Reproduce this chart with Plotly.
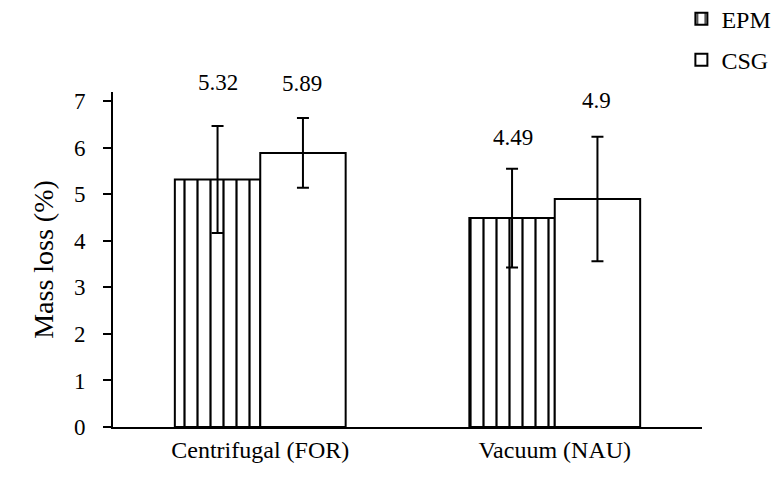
import plotly.graph_objects as go

categories = ["Centrifugal (FOR)", "Vacuum (NAU)"]
series_names = ["EPM", "CSG"]
epm_values = [5.32, 4.49]
csg_values = [5.89, 4.90]
epm_errors = [1.15, 1.06]
csg_errors = [0.75, 1.34]
y_ticks = [0, 1, 2, 3, 4, 5, 6, 7]

FONT = "Liberation Serif"

fig = go.Figure()
fig.add_trace(go.Bar(
    name=series_names[0], x=categories, y=epm_values,
    error_y=dict(type="data", array=epm_errors, color="black", thickness=2, width=6),
    marker=dict(color="white", line=dict(color="black", width=2),
                pattern=dict(shape="|", fgcolor="#000000", bgcolor="white", fgopacity=1,
                             fillmode="replace", size=13, solidity=0.17)),
    legendgroup="a",
))
fig.add_trace(go.Bar(
    name=series_names[1], x=categories, y=csg_values,
    error_y=dict(type="data", array=csg_errors, color="black", thickness=2, width=6),
    marker=dict(color="white", line=dict(color="black", width=2)),
    legendgroup="b",
))

# value labels above error bars
label_shift = [[43, 31], [35, 36]]
for si, (vals, errs) in enumerate([(epm_values, epm_errors), (csg_values, csg_errors)]):
    for ci, cat in enumerate(categories):
        fig.add_annotation(
            x=cat, y=vals[ci] + errs[ci], text=f"{vals[ci]:g}", showarrow=False,
            xshift=-42 if si == 0 else 42, yshift=label_shift[si][ci],
            font=dict(family=FONT, size=23, color="black"),
        )

fig.update_layout(
    width=771, height=470,
    margin=dict(l=105, r=77, t=84, b=51, autoexpand=False),
    paper_bgcolor="white", plot_bgcolor="white",
    barmode="group", bargap=0.42, bargroupgap=0,
    font=dict(family=FONT, size=23, color="black"),
    showlegend=True,
    legend=dict(x=0.965, y=1.285, xanchor="left", yanchor="top", tracegroupgap=7,
                font=dict(family=FONT, size=24, color="black"), bgcolor="rgba(0,0,0,0)"),
    xaxis=dict(range=[-0.5, 1.5], showline=True, linecolor="black", linewidth=2,
               ticks="", showgrid=False, zeroline=False, automargin=False,
               tickfont=dict(family=FONT, size=24)),
    yaxis=dict(range=[0, 7.2], tickvals=y_ticks, showline=True, linecolor="black", linewidth=2,
               ticks="outside", ticklen=8, tickwidth=2, tickcolor="black",
               showgrid=False, zeroline=False, automargin=False, ticklabelstandoff=13,
               tickfont=dict(family=FONT, size=23),
               title=dict(text="Mass loss (%)", font=dict(family=FONT, size=28), standoff=12)),
)

fig.write_html("out.html")
